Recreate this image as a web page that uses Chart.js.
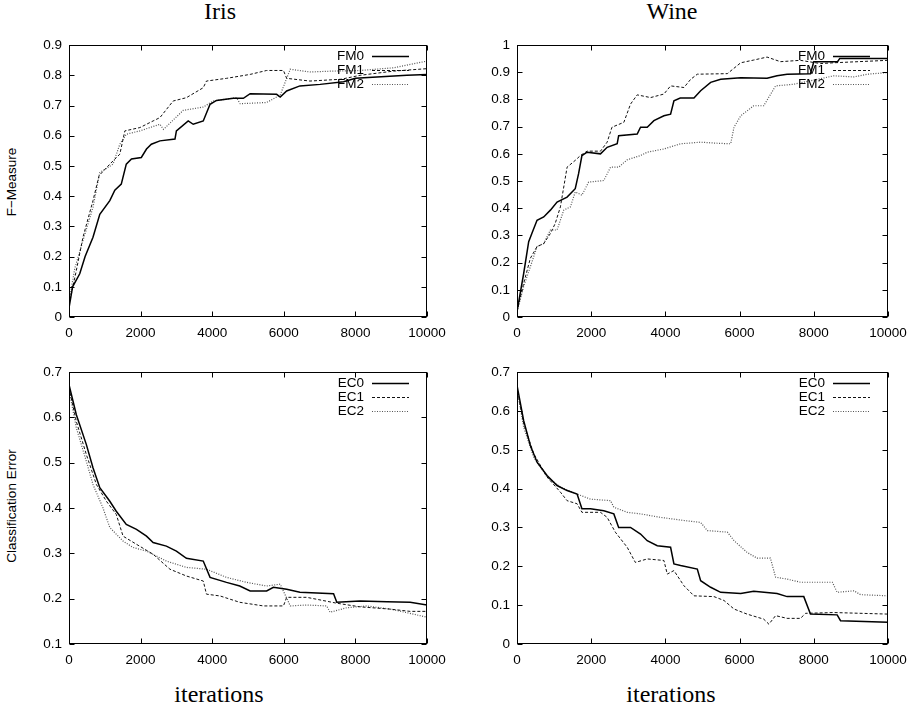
<!DOCTYPE html>
<html>
<head>
<meta charset="utf-8">
<script src="https://cdn.jsdelivr.net/npm/chart.js@4.4.1/dist/chart.umd.min.js"></script>
<style>
  body { margin: 0; background: #fff; }
  #page { position: relative; width: 918px; height: 707px; overflow: hidden; }
  canvas { position: absolute; }
  .title { position: absolute; font-family: "Liberation Serif", serif; font-size: 24px; line-height: 24px; width: 200px; text-align: center; color: #000; }
  .ylab { position: absolute; font-family: "Liberation Sans", sans-serif; font-size: 13.5px; line-height: 14px; width: 200px; text-align: center; transform: rotate(-90deg); color: #000; }
</style>
</head>
<body>
<div id="page">
  <div class="title" style="left:120px; top:-1px;">Iris</div>
  <div class="title" style="left:572px; top:-1px;">Wine</div>
  <div class="title" style="left:119px; top:682px;">iterations</div>
  <div class="title" style="left:571px; top:682px;">iterations</div>
  <div class="ylab" style="left:-88px; top:175px;">F−Measure</div>
  <div class="ylab" style="left:-88px; top:499px;">Classification Error</div>
  <canvas id="irisFm"></canvas>
  <canvas id="wineFm"></canvas>
  <canvas id="irisEc"></canvas>
  <canvas id="wineEc"></canvas>
</div>
<script>
// values: [iteration, value]
const irisFM0 = [[0,0.03],[100,0.1],[300,0.143],[450,0.2],[670,0.264],[860,0.34],[1140,0.385],[1280,0.42],[1460,0.44],[1600,0.506],[1745,0.523],[2020,0.528],[2165,0.556],[2300,0.572],[2540,0.583],[2960,0.589],[3000,0.616],[3330,0.649],[3470,0.638],[3750,0.649],[3940,0.704],[4120,0.717],[4590,0.724],[4870,0.724],[5060,0.739],[5800,0.737],[5900,0.728],[6080,0.748],[6450,0.765],[7015,0.77],[7670,0.779],[8000,0.79],[9440,0.8],[10000,0.803]];
const irisFM1 = [[0,0.04],[205,0.154],[390,0.264],[670,0.385],[840,0.468],[1140,0.506],[1420,0.539],[1560,0.616],[1980,0.627],[2350,0.649],[2540,0.66],[2910,0.715],[3280,0.726],[3750,0.759],[3840,0.781],[4400,0.79],[5060,0.803],[5520,0.816],[5990,0.816],[6080,0.79],[6730,0.781],[7600,0.787],[8130,0.8],[9070,0.814],[10000,0.822]];
const irisFM2 = [[0,0.05],[160,0.16],[390,0.253],[670,0.363],[860,0.478],[1230,0.506],[1420,0.572],[1600,0.605],[1980,0.616],[2540,0.638],[2640,0.621],[3190,0.684],[3750,0.695],[4030,0.715],[4680,0.726],[4780,0.706],[5520,0.71],[5900,0.735],[6180,0.82],[6730,0.811],[7380,0.814],[8130,0.816],[9070,0.825],[9530,0.836],[10000,0.847]];

const wineFM0 = [[0,0.02],[180,0.16],[315,0.277],[400,0.307],[540,0.356],[720,0.368],[900,0.393],[1080,0.423],[1350,0.441],[1570,0.472],[1660,0.527],[1750,0.594],[1890,0.606],[2250,0.6],[2430,0.624],[2700,0.637],[2740,0.667],[3240,0.673],[3330,0.698],[3510,0.698],[3690,0.722],[3960,0.74],[4140,0.746],[4230,0.795],[4400,0.805],[4770,0.805],[4950,0.832],[5220,0.863],[5490,0.874],[6030,0.88],[6740,0.878],[7010,0.887],[7280,0.893],[7910,0.895],[8000,0.939],[8640,0.939],[8700,0.951],[10000,0.951]];
const wineFM1 = [[0,0.02],[180,0.124],[360,0.216],[540,0.259],[720,0.27],[900,0.307],[1030,0.344],[1170,0.405],[1350,0.551],[1570,0.576],[1710,0.594],[1890,0.61],[2250,0.61],[2430,0.643],[2560,0.698],[2880,0.716],[3060,0.783],[3240,0.817],[3600,0.807],[3960,0.82],[4140,0.85],[4500,0.844],[4680,0.874],[4860,0.893],[5670,0.895],[6030,0.935],[6380,0.945],[6740,0.956],[7100,0.939],[7640,0.944],[8180,0.932],[8540,0.935],[10000,0.944]];
const wineFM2 = [[0,0.02],[180,0.112],[360,0.185],[540,0.259],[720,0.27],[900,0.32],[1080,0.32],[1260,0.393],[1440,0.405],[1570,0.46],[1750,0.448],[1930,0.496],[2340,0.502],[2520,0.551],[2740,0.551],[2970,0.578],[3330,0.594],[3510,0.606],[3960,0.618],[4410,0.637],[4950,0.643],[5400,0.639],[5760,0.637],[5850,0.698],[6030,0.74],[6380,0.777],[6650,0.777],[6970,0.85],[7460,0.856],[8540,0.887],[9080,0.883],[9440,0.893],[10000,0.899]];

const irisEC0 = [[0,0.672],[205,0.606],[485,0.54],[670,0.489],[860,0.445],[1140,0.415],[1320,0.393],[1600,0.364],[1885,0.353],[2165,0.338],[2350,0.324],[2720,0.316],[3000,0.305],[3280,0.289],[3750,0.283],[3940,0.247],[4400,0.236],[4770,0.228],[5060,0.217],[5520,0.217],[5710,0.225],[6080,0.221],[6450,0.214],[7390,0.211],[7480,0.192],[8130,0.195],[8880,0.193],[9530,0.192],[10000,0.186]];
const irisEC1 = [[0,0.665],[205,0.591],[485,0.518],[765,0.452],[1045,0.415],[1320,0.386],[1510,0.338],[1885,0.32],[2350,0.298],[2820,0.265],[3280,0.25],[3750,0.239],[3840,0.21],[4220,0.206],[4770,0.192],[5430,0.184],[5990,0.184],[6080,0.203],[6640,0.203],[7480,0.19],[8130,0.182],[8970,0.177],[9530,0.172],[10000,0.172]];
const irisEC2 = [[0,0.661],[205,0.577],[485,0.503],[670,0.452],[950,0.4],[1140,0.357],[1510,0.327],[1790,0.313],[2165,0.305],[2720,0.283],[3280,0.269],[3840,0.265],[4400,0.247],[4960,0.236],[5520,0.228],[5900,0.232],[6180,0.184],[6640,0.186],[7200,0.184],[7290,0.17],[7760,0.18],[8320,0.184],[8970,0.177],[9620,0.166],[10000,0.159]];

const wineEC0 = [[0,0.666],[180,0.575],[360,0.511],[540,0.468],[810,0.434],[1080,0.408],[1350,0.395],[1620,0.386],[1750,0.348],[1980,0.348],[2340,0.343],[2610,0.335],[2740,0.3],[3060,0.3],[3330,0.283],[3510,0.266],[3780,0.253],[4140,0.249],[4230,0.206],[4410,0.202],[4860,0.193],[4950,0.163],[5220,0.146],[5490,0.133],[6030,0.13],[6380,0.136],[7010,0.13],[7280,0.122],[7730,0.122],[7910,0.077],[8630,0.075],[8720,0.06],[10000,0.056]];
const wineEC1 = [[0,0.661],[180,0.567],[450,0.49],[810,0.43],[1170,0.391],[1350,0.369],[1620,0.361],[1750,0.339],[2250,0.339],[2430,0.326],[2650,0.288],[2970,0.249],[3190,0.21],[3510,0.219],[3960,0.215],[4050,0.18],[4230,0.189],[4500,0.15],[4770,0.124],[5310,0.122],[5580,0.112],[5850,0.09],[6200,0.077],[6650,0.064],[6790,0.051],[6970,0.073],[7280,0.066],[7640,0.066],[7780,0.079],[8540,0.081],[10000,0.077]];
const wineEC2 = [[0,0.657],[180,0.558],[450,0.481],[810,0.43],[1170,0.404],[1620,0.386],[1980,0.373],[2520,0.369],[2610,0.352],[2970,0.339],[3330,0.335],[3870,0.326],[4500,0.318],[4950,0.313],[5130,0.292],[5670,0.288],[5850,0.266],[6200,0.236],[6470,0.221],[6830,0.221],[6970,0.172],[7280,0.167],[7640,0.159],[8500,0.159],[8630,0.133],[9080,0.137],[9260,0.127],[10000,0.124]];

const fmLabels = ["FM0", "FM1", "FM2"];
const ecLabels = ["EC0", "EC1", "EC2"];

// gnuplot-ish line types: solid, dashed, dotted
const lineStyles = [
  { borderColor: "#000", borderWidth: 1.5, borderDash: [] },
  { borderColor: "#111", borderWidth: 1, borderDash: [3, 2] },
  { borderColor: "#555", borderWidth: 1.2, borderDash: [1, 1.5] },
];

const TICK_FONT = { family: "'Liberation Sans', Arial, sans-serif", size: 13.5 };

// box with inward ticks on all sides + key in the top right corner
const gnuplotFrame = {
  id: "gnuplotFrame",
  afterDatasetsDraw(chart) {
    const { ctx, chartArea: a, scales } = chart;
    const L = Math.round(a.left) + 0.5, R = Math.round(a.right) - 0.5;
    const T = Math.round(a.top) + 0.5, B = Math.round(a.bottom) - 0.5;
    ctx.save();
    ctx.strokeStyle = "#000";
    ctx.lineWidth = 1;
    ctx.setLineDash([]);
    ctx.strokeRect(L, T, R - L, B - T);
    ctx.beginPath();
    scales.x.ticks.forEach((t) => {
      const px = Math.round(scales.x.getPixelForValue(t.value)) + 0.5;
      ctx.moveTo(px, B); ctx.lineTo(px, B - 5);
      ctx.moveTo(px, T); ctx.lineTo(px, T + 5);
    });
    scales.y.ticks.forEach((t) => {
      const py = Math.round(scales.y.getPixelForValue(t.value)) + 0.5;
      ctx.moveTo(L, py); ctx.lineTo(L + 5, py);
      ctx.moveTo(R, py); ctx.lineTo(R - 5, py);
    });
    ctx.stroke();

    ctx.font = TICK_FONT.size + "px " + TICK_FONT.family;
    ctx.textAlign = "right";
    ctx.textBaseline = "middle";
    ctx.fillStyle = "#000";
    chart.data.datasets.forEach((ds, i) => {
      const yy = Math.round(a.top + 11 + i * 14) + 0.5;
      ctx.fillText(ds.label, a.right - 63, yy);
      ctx.strokeStyle = ds.borderColor;
      ctx.lineWidth = ds.borderWidth;
      ctx.setLineDash(ds.borderDash);
      ctx.beginPath();
      ctx.moveTo(a.right - 55, yy);
      ctx.lineTo(a.right - 18, yy);
      ctx.stroke();
    });
    ctx.restore();
  },
};

const ML = 40, MT = 14, MR = 31, MB = 26;

function makeChart(id, plot, labels, series, yMin, yMax) {
  const canvas = document.getElementById(id);
  canvas.width = plot.right - plot.left + ML + MR;
  canvas.height = plot.bottom - plot.top + MT + MB;
  canvas.style.left = plot.left - ML + "px";
  canvas.style.top = plot.top - MT + "px";

  const datasets = series.map((pts, i) => ({
    label: labels[i],
    data: pts.map((p) => ({ x: p[0], y: p[1] })),
    borderColor: lineStyles[i].borderColor,
    borderWidth: lineStyles[i].borderWidth,
    borderDash: lineStyles[i].borderDash,
    pointRadius: 0,
    tension: 0,
    fill: false,
  }));

  return new Chart(canvas.getContext("2d"), {
    type: "line",
    data: { datasets },
    plugins: [gnuplotFrame],
    options: {
      responsive: false,
      animation: false,
      layout: { padding: { left: 0, top: MT, right: MR, bottom: 0 } },
      plugins: { legend: { display: false }, tooltip: { enabled: false } },
      scales: {
        x: {
          type: "linear",
          min: 0,
          max: 10000,
          border: { display: false },
          grid: { display: false, drawTicks: false },
          ticks: {
            stepSize: 2000,
            maxRotation: 0,
            padding: 8,
            color: "#000",
            font: TICK_FONT,
            callback: (v) => String(v),
          },
          afterFit: (s) => { s.height = MB; },
        },
        y: {
          min: yMin,
          max: yMax,
          border: { display: false },
          grid: { display: false, drawTicks: false },
          ticks: {
            stepSize: 0.1,
            padding: 7,
            color: "#000",
            font: TICK_FONT,
            callback: (v) => String(+v.toFixed(1)),
          },
          afterFit: (s) => { s.width = ML; },
        },
      },
    },
  });
}

makeChart("irisFm", { left: 69, top: 44, right: 427, bottom: 317 }, fmLabels, [irisFM0, irisFM1, irisFM2], 0, 0.9);
makeChart("wineFm", { left: 517, top: 44, right: 888, bottom: 317 }, fmLabels, [wineFM0, wineFM1, wineFM2], 0, 1);
makeChart("irisEc", { left: 69, top: 371, right: 427, bottom: 644 }, ecLabels, [irisEC0, irisEC1, irisEC2], 0.1, 0.7);
makeChart("wineEc", { left: 517, top: 371, right: 888, bottom: 644 }, ecLabels, [wineEC0, wineEC1, wineEC2], 0, 0.7);
</script>
</body>
</html>
